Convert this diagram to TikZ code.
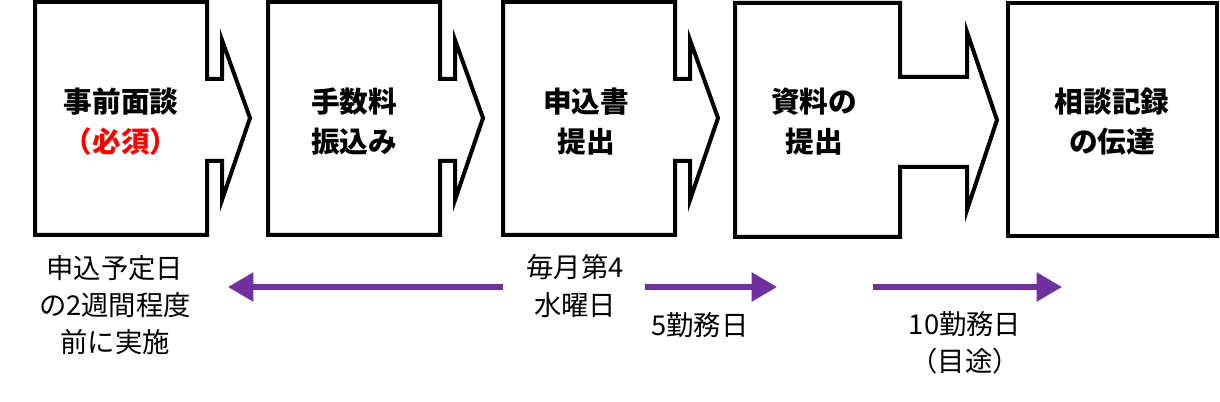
\documentclass[tikz,border=0pt]{standalone}
\usepackage{fontspec}
\setmainfont{Noto Sans CJK JP}
\usetikzlibrary{arrows.meta}
\definecolor{stepred}{RGB}{255,0,0}
\definecolor{flowpurple}{RGB}{112,48,160}
\tikzset{every picture/.style={line width=0.75pt}}
\tikzset{
  stepshape/.style={draw=black,line width=3pt,line join=miter},
  steptext/.style={font=\fontsize{21.5}{30}\selectfont\bfseries,align=center},
  notetext/.style={font=\fontsize{20.5}{28}\selectfont,align=center},
  flow/.style={draw=flowpurple,line width=4pt,-{Triangle[length=19pt,width=21pt]}}
}
\newcommand{\stepbox}[1]{% left offset
  \draw[stepshape] (#1+35,2) -- (#1+207,2) -- (#1+207,79) -- (#1+222,79) -- (#1+222,40) -- (#1+250,118)
    -- (#1+222,200) -- (#1+222,161) -- (#1+207,161) -- (#1+207,235) -- (#1+35,235) -- cycle;
}
\begin{document}
\begin{tikzpicture}[x=0.75pt,y=0.75pt,yscale=-1,xscale=1]
	\useasboundingbox (0,0) rectangle (1220,402);

	% step shapes
	\stepbox{0}
	\stepbox{233}
	\stepbox{468}
	\draw[stepshape] (735,3) -- (900,3) -- (900,77) -- (967,77) -- (967,32) -- (997,120)
	  -- (967,210) -- (967,167) -- (900,167) -- (900,237) -- (735,237) -- cycle;
	\draw[stepshape] (1008,3) rectangle (1217,236);

	% step labels
	\node[steptext] (interview) at (121,122) {事前面談\\\textcolor{stepred}{（必須）}};
	\node[steptext] (fee) at (354,122) {手数料\\振込み};
	\node[steptext] (apply) at (586,122) {申込書\\提出};
	\node[steptext] (docs) at (814,122) {資料の\\提出};
	\node[steptext] (record) at (1112,122) {相談記録\\の伝達};

	% notes
	\node[notetext] (before) at (115,305) {申込予定日\\の2週間程度\\前に実施};
	\node[notetext] (monthly) at (575,286) {毎月第4\\水曜日};
	\node[notetext] (five) at (700,325) {5勤務日};
	\node[notetext] (ten) at (965,343) {10勤務日\\（目途）};

	% flows
	\coordinate (l1) at (503,287);
	\coordinate (l2) at (228,287);
	\coordinate (m1) at (645,287);
	\coordinate (m2) at (777,287);
	\coordinate (r1) at (873,287);
	\coordinate (r2) at (1062,287);
	\draw[flow] (l1) -- (l2);
	\draw[flow] (m1) -- (m2);
	\draw[flow] (r1) -- (r2);
\end{tikzpicture}
\end{document}
